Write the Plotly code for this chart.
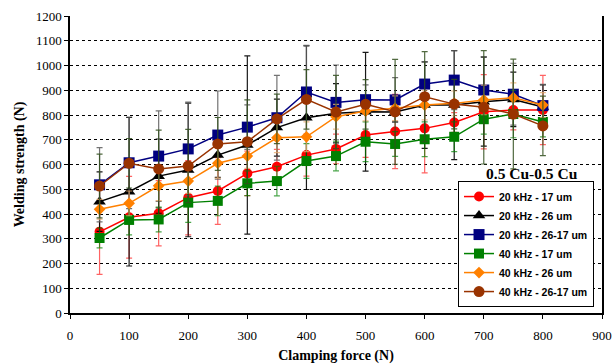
import plotly.graph_objects as go

force = [50, 100, 150, 200, 250, 300, 350, 400, 450, 500, 550, 600, 650, 700, 750, 800]

names = ["20 kHz - 17 um", "20 kHz - 26 um", "20 kHz - 26-17 um",
         "40 kHz - 17 um", "40 kHz - 26 um", "40 kHz - 26-17 um"]

s20_17 = [328, 387, 403, 466, 493, 564, 591, 638, 663, 719, 733, 746, 770, 813, 820, 820]
s20_26 = [450, 490, 553, 578, 638, 679, 749, 789, 807, 813, 812, 840, 840, 854, 863, 832]
s20_2617 = [518, 607, 634, 663, 719, 751, 789, 893, 851, 862, 861, 925, 941, 901, 884, 838]
s40_17 = [303, 376, 378, 446, 453, 524, 533, 614, 634, 692, 683, 702, 712, 783, 804, 772]
s40_26 = [419, 443, 514, 533, 605, 634, 708, 712, 793, 816, 827, 840, 847, 861, 870, 840]
s40_2617 = [513, 605, 582, 594, 683, 692, 784, 863, 812, 843, 813, 874, 844, 831, 804, 756]

e20_17 = [172, 165, 132, 150, 135, 90, 70, 85, 60, 90, 150, 180, 40, 150, 80, 140]
e20_26 = [120, 300, 150, 270, 90, 360, 115, 290, 120, 240, 40, 175, 220, 180, 110, 90]
e20_2617 = [150, 185, 183, 189, 178, 90, 171, 188, 151, 60, 90, 90, 119, 135, 125, 86]
e40_17 = [40, 60, 50, 80, 60, 50, 60, 70, 60, 80, 50, 70, 60, 60, 96, 60]
e40_26 = [40, 50, 60, 50, 60, 50, 60, 60, 50, 40, 50, 60, 50, 60, 60, 50]
e40_2617 = [129, 100, 157, 148, 107, 169, 100, 120, 148, 100, 212, 182, 100, 229, 222, 120]

values = [s20_17, s20_26, s20_2617, s40_17, s40_26, s40_2617]
errors = [e20_17, e20_26, e20_2617, e40_17, e40_26, e40_2617]
colors = ["#ff0000", "#000000", "#000080", "#008000", "#ff8000", "#993300"]
err_colors = ["rgba(255,60,60,0.8)", "rgba(0,0,0,0.9)", "rgba(90,90,90,0.85)",
              "rgba(0,130,0,0.7)", "rgba(230,170,110,0.8)", "rgba(50,80,30,0.85)"]
symbols = ["circle", "triangle-up", "square", "square", "diamond", "circle"]
sizes = [10, 11, 11, 10, 9, 11]

fig = go.Figure()
for n, v, e, c, ec, sym, sz in zip(names, values, errors, colors, err_colors, symbols, sizes):
    fig.add_trace(go.Scatter(
        x=force, y=v, name=n, mode="lines+markers",
        line=dict(color=c, width=1.5),
        marker=dict(color=c, symbol=sym, size=sz),
        error_y=dict(type="data", array=e, visible=True, color=ec, thickness=1.2, width=3),
    ))

fig.add_annotation(x=782, y=565, xref="x", yref="y", text="<b>0.5 Cu-0.5 Cu</b>",
                   showarrow=False, font=dict(family="Liberation Serif", size=15.5, color="black"))

fig.update_layout(
    width=614, height=364,
    margin=dict(l=70, r=12, t=16, b=51, autoexpand=False),
    paper_bgcolor="white", plot_bgcolor="white",
    font=dict(family="Liberation Serif", size=13, color="black"),
    legend=dict(x=0.985, y=0.02, xanchor="right", yanchor="bottom",
                bgcolor="white", bordercolor="black", borderwidth=1,
                font=dict(family="Liberation Sans", size=10.5, color="black", weight="bold"),
                itemwidth=30, tracegroupgap=0),
    showlegend=True,
)
fig.update_xaxes(range=[0, 900], dtick=100, tick0=0, showgrid=False,
                 showline=True, linecolor="black", linewidth=1.5,
                 ticks="outside", ticklen=4, tickcolor="black", ticklabelstandoff=6,
                 title=dict(text="<b>Clamping force (N)</b>", font=dict(size=14), standoff=10),
                 zeroline=False)
fig.update_yaxes(range=[0, 1200], dtick=100, tick0=0, showgrid=True,
                 gridcolor="black", griddash="dot", gridwidth=1,
                 showline=True, linecolor="black", linewidth=1.5, mirror=True,
                 ticks="outside", ticklen=4, tickcolor="black",
                 title=dict(text="<b>Welding strength (N)</b>", font=dict(size=14), standoff=8),
                 zeroline=False)

fig.write_html("out.html")
